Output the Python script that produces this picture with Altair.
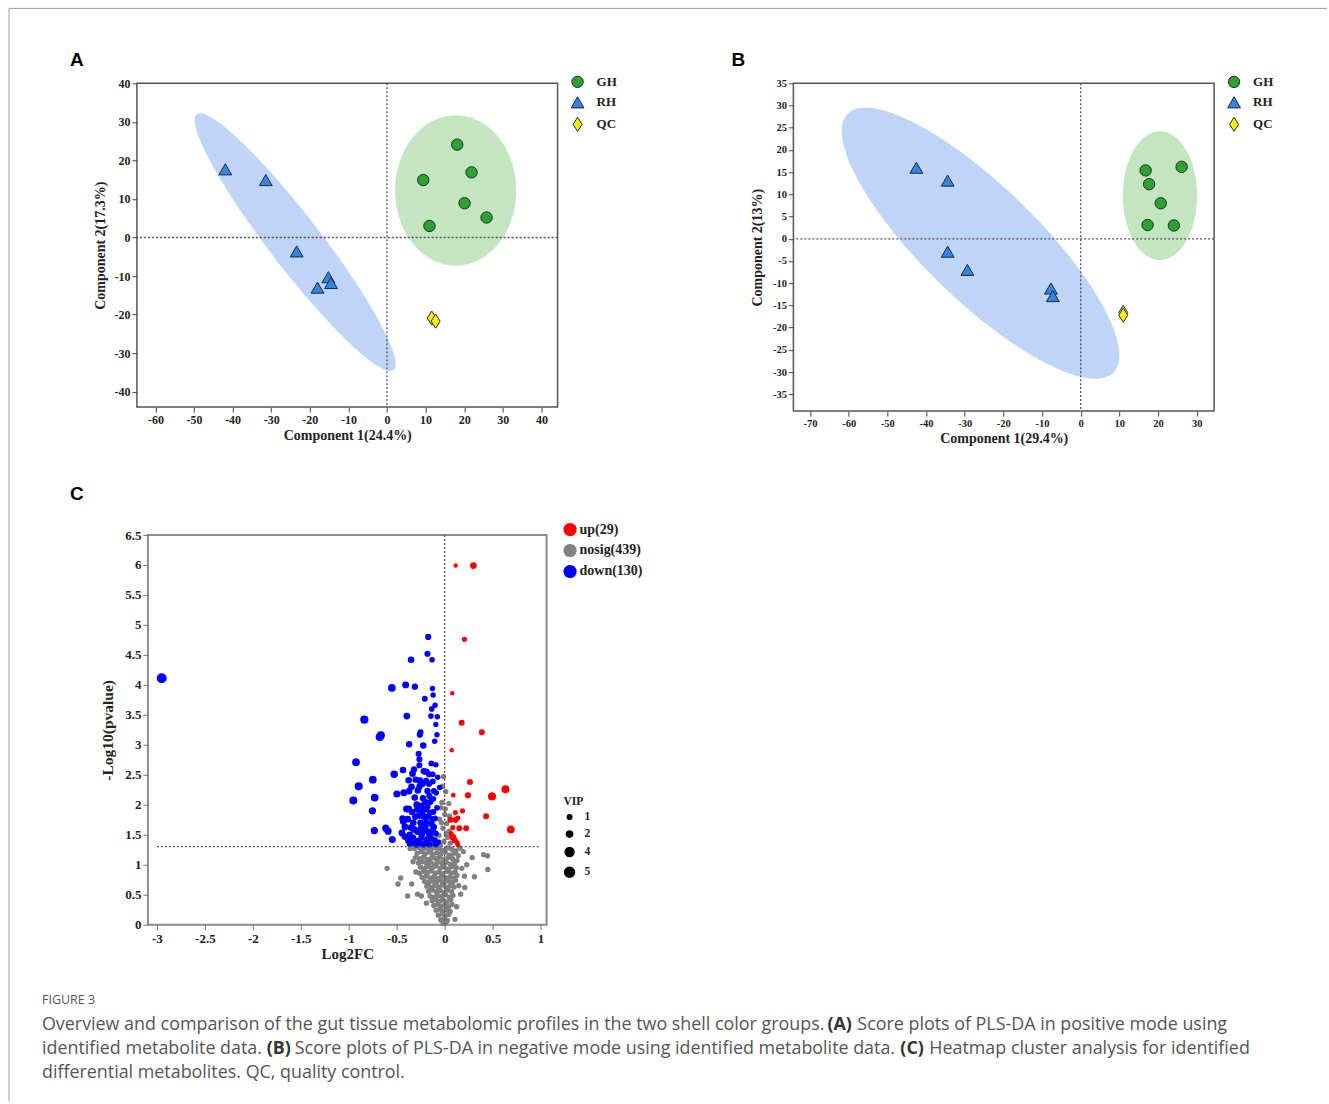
import altair as alt
import numpy as np
import pandas as pd

# ---------------- Panel A : PLS-DA, positive mode ----------------
GROUPS = ["GH", "RH", "QC"]
A_GH_X = [18.2, 9.4, 21.9, 20.1, 25.8, 11.0]
A_GH_Y = [24.1, 14.9, 16.9, 8.9, 5.2, 3.0]
A_RH_X = [-41.9, -31.4, -23.4, -15.2, -14.5, -18.0]
A_RH_Y = [17.7, 14.9, -3.6, -10.3, -11.8, -13.0]
A_QC_X = [11.6, 12.6]
A_QC_Y = [-20.9, -21.7]
A_X_TICKS = [-60, -50, -40, -30, -20, -10, 0, 10, 20, 30, 40]
A_Y_TICKS = [-40, -30, -20, -10, 0, 10, 20, 30, 40]
# confidence ellipses: centre x, centre y, semi-axis vector U, conjugate vector V
A_ELL_RH = [-23.8, -1.2, -25.5, 33.2, 5.3, 4.1]
A_ELL_GH = [17.8, 12.2, 15.7, 0.0, 0.0, 19.5]

# ---------------- Panel B : PLS-DA, negative mode ----------------
B_GH_X = [16.8, 26.1, 17.7, 20.7, 17.3, 24.1]
B_GH_Y = [15.4, 16.2, 12.3, 8.0, 3.1, 3.0]
B_RH_X = [-42.5, -34.4, -34.4, -29.3, -7.7, -7.2]
B_RH_Y = [16.0, 13.1, -2.9, -7.0, -11.2, -12.9]
B_QC_X = [11.0, 11.0]
B_QC_Y = [-16.6, -17.2]
B_X_TICKS = [-70, -60, -50, -40, -30, -20, -10, 0, 10, 20, 30]
B_Y_TICKS = [-35, -30, -25, -20, -15, -10, -5, 0, 5, 10, 15, 20, 25, 30, 35]
B_ELL_RH = [-25.9, -1.0, 34.4, -29.1, -10.3, -9.2]
B_ELL_GH = [20.5, 9.7, 9.6, 0.0, 0.0, 14.5]

# ---------------- Panel C : volcano plot ----------------
C_TYPES = ["up(29)", "nosig(439)", "down(130)"]
C_X_TICKS = [-3, -2.5, -2, -1.5, -1, -0.5, 0, 0.5, 1]
C_Y_TICKS = [0, 0.5, 1, 1.5, 2, 2.5, 3, 3.5, 4, 4.5, 5, 5.5, 6, 6.5]
C_VIP_LEGEND = [1, 2, 4, 5]
C_P_THRESHOLD = 1.301
# (log2FC, -log10 p, VIP)
C_UP = [
    (0.115, 5.99, 1.0), (0.300, 5.99, 2.3), (0.207, 4.76, 1.4), (0.080, 3.86, 1.0),
    (0.178, 3.37, 1.8), (0.388, 3.21, 1.8), (0.074, 2.91, 1.0), (0.264, 2.38, 1.8),
    (0.634, 2.26, 3.2), (0.090, 2.16, 1.1), (0.243, 2.16, 1.9), (0.494, 2.14, 3.5),
    (0.112, 1.87, 1.3), (0.186, 1.90, 1.4), (0.432, 1.81, 1.8), (0.060, 1.75, 1.8),
    (0.115, 1.75, 1.9), (0.153, 1.61, 1.8), (0.224, 1.61, 1.8), (0.690, 1.59, 3.0),
    (0.068, 1.52, 1.3), (0.090, 1.47, 1.5), (0.108, 1.42, 1.4), (0.130, 1.37, 1.3),
    (0.138, 1.33, 1.2), (0.085, 1.62, 1.3), (0.098, 1.40, 1.2), (0.140, 1.78, 1.2),
    (0.075, 1.45, 1.1),
]
C_DOWN = [
    (-2.950, 4.11, 5.0), (-0.171, 4.80, 1.9), (-0.179, 4.52, 1.9), (-0.131, 4.42, 1.6),
    (-0.350, 4.42, 2.2), (-0.550, 3.95, 2.9), (-0.406, 4.00, 2.4), (-0.310, 3.97, 2.0),
    (-0.127, 3.94, 1.5), (-0.120, 3.83, 1.5), (-0.207, 3.77, 1.8), (-0.100, 3.66, 1.5),
    (-0.135, 3.60, 1.6), (-0.837, 3.42, 3.4), (-0.394, 3.48, 2.3), (-0.143, 3.48, 1.6),
    (-0.076, 3.47, 1.5), (-0.092, 3.34, 1.4), (-0.677, 3.13, 3.3), (-0.665, 3.16, 3.3),
    (-0.251, 3.21, 1.9), (-0.259, 3.17, 1.9), (-0.080, 3.17, 1.5), (-0.104, 3.06, 1.5),
    (-0.370, 3.01, 2.1), (-0.223, 2.99, 2.1), (-0.271, 2.85, 1.9), (-0.263, 2.76, 1.9),
    (-0.924, 2.71, 3.0), (-0.139, 2.69, 1.7), (-0.092, 2.67, 1.5), (-0.263, 2.66, 1.9),
    (-0.319, 2.59, 2.0), (-0.434, 2.58, 2.2), (-0.191, 2.55, 2.2), (-0.526, 2.51, 2.8),
    (-0.335, 2.52, 2.2), (-0.163, 2.51, 1.9), (-0.124, 2.51, 1.6), (-0.072, 2.46, 1.5),
    (-0.749, 2.42, 3.0), (-0.375, 2.41, 2.2), (-0.259, 2.40, 2.4), (-0.124, 2.39, 1.8),
    (-0.052, 2.29, 1.5), (-0.896, 2.31, 3.3), (-0.231, 2.35, 2.2), (-0.163, 2.35, 2.0),
    (-0.370, 2.23, 2.3), (-0.279, 2.24, 2.2), (-0.179, 2.23, 2.0), (-0.112, 2.23, 1.8),
    (-0.498, 2.18, 2.5), (-0.426, 2.20, 2.5), (-0.729, 2.12, 3.0), (-0.952, 2.07, 3.2),
    (-0.227, 2.11, 2.0), (-0.291, 2.00, 2.4), (-0.247, 1.98, 2.2), (-0.179, 1.97, 2.0),
    (-0.375, 1.93, 2.4), (-0.753, 1.90, 2.7), (-0.339, 1.88, 2.2), (-0.199, 1.93, 2.1),
    (-0.151, 1.87, 2.0), (-0.263, 1.82, 2.2), (-0.438, 1.77, 2.4), (-0.171, 1.81, 2.0),
    (-0.100, 1.77, 1.8), (-0.430, 1.72, 2.4), (-0.327, 1.70, 2.2), (-0.251, 1.70, 2.2),
    (-0.191, 1.71, 2.1), (-0.135, 1.68, 2.0), (-0.414, 1.63, 2.3), (-0.614, 1.61, 2.6),
    (-0.590, 1.56, 2.6), (-0.733, 1.57, 2.6), (-0.319, 1.59, 2.3), (-0.211, 1.59, 2.2),
    (-0.124, 1.58, 2.0), (-0.363, 1.50, 2.3), (-0.239, 1.51, 2.2), (-0.155, 1.50, 2.1),
    (-0.092, 1.52, 1.8), (-0.546, 1.42, 2.5), (-0.414, 1.47, 2.3), (-0.378, 1.40, 2.2),
    (-0.271, 1.40, 2.2), (-0.183, 1.41, 2.1), (-0.104, 1.41, 1.9), (-0.291, 1.34, 2.2),
    (-0.223, 1.34, 2.1), (-0.155, 1.34, 2.0), (-0.092, 1.34, 1.8), (-0.200, 1.64, 2.1),
    (-0.170, 1.45, 2.0), (-0.282, 1.55, 2.2), (-0.305, 1.80, 2.2), (-0.118, 1.88, 1.8),
    (-0.148, 2.05, 1.9), (-0.192, 2.40, 2.0), (-0.218, 2.56, 2.0), (-0.302, 2.42, 2.1),
    (-0.088, 2.20, 1.6), (-0.352, 1.62, 2.2), (-0.285, 1.92, 2.2), (-0.130, 1.76, 1.9),
    (-0.240, 1.45, 2.1), (-0.200, 1.36, 2.0), (-0.330, 1.45, 2.2), (-0.110, 1.63, 1.9),
    (-0.160, 2.15, 1.9), (-0.262, 2.30, 2.1), (-0.385, 1.76, 2.3), (-0.445, 1.53, 2.4),
    (-0.080, 1.95, 1.6), (-0.312, 2.12, 2.2), (-0.215, 1.80, 2.1), (-0.142, 1.44, 2.0),
    (-0.250, 1.60, 2.2), (-0.205, 2.05, 2.1), (-0.345, 2.30, 2.2), (-0.066, 1.38, 1.6),
    (-0.398, 1.93, 2.3), (-0.318, 1.37, 2.1), (-0.175, 1.55, 2.1), (-0.232, 1.88, 2.1),
    (-0.118, 2.10, 1.7), (-0.360, 1.35, 2.2),
]
C_NOSIG_VIP = 1.45
C_NOSIG = [
    (-0.012, 2.47), (-0.028, 2.04), (0.044, 2.02), (-0.040, 1.95), (0.002, 1.84),
    (-0.052, 1.76), (0.022, 1.69), (-0.018, 1.61), (0.047, 1.56), (-0.060, 1.49),
    (0.031, 1.46), (-0.008, 1.39), (0.058, 1.36), (-0.045, 1.33), (0.012, 2.22),
    (-0.022, 2.31), (0.006, 1.93), (0.051, 1.81), (-0.034, 1.70), (0.018, 1.52),
    (-0.600, 0.94), (-0.458, 0.78), (-0.486, 0.68), (-0.343, 0.68), (-0.386, 0.48),
    (-0.283, 0.51), (-0.243, 0.48), (0.287, 1.12), (0.406, 1.17), (0.446, 1.15),
    (0.450, 0.92), (0.311, 0.80), (0.179, 0.94), (0.207, 0.81), (0.147, 0.65),
    (0.108, 0.09), (0.167, 0.51), (-0.300, 0.88), (0.230, 1.00), (-0.330, 1.05),
    (0.195, 1.22), (-0.360, 1.27), (0.160, 1.28), (0.210, 0.62), (-0.190, 0.36),
    (0.125, 0.30),
    (-0.312, 1.27), (-0.268, 1.29), (-0.224, 1.26), (-0.183, 1.28), (-0.141, 1.25),
    (-0.102, 1.29), (-0.061, 1.27), (-0.019, 1.24), (0.028, 1.28), (0.074, 1.26),
    (0.118, 1.23), (-0.287, 1.19), (-0.246, 1.22), (-0.205, 1.18), (-0.162, 1.21),
    (-0.123, 1.17), (-0.081, 1.20), (-0.040, 1.18), (0.006, 1.21), (0.051, 1.16),
    (0.097, 1.19), (0.142, 1.15), (-0.305, 1.12), (-0.262, 1.10), (-0.218, 1.13),
    (-0.176, 1.09), (-0.134, 1.12), (-0.092, 1.10), (-0.053, 1.13), (-0.012, 1.09),
    (0.036, 1.12), (0.083, 1.10), (0.129, 1.07), (-0.274, 1.03), (-0.231, 1.05),
    (-0.190, 1.02), (-0.148, 1.04), (-0.107, 1.01), (-0.066, 1.05), (-0.027, 1.02),
    (0.018, 1.04), (0.061, 1.01), (0.104, 1.03), (-0.252, 0.96), (-0.211, 0.94),
    (-0.168, 0.97), (-0.128, 0.95), (-0.088, 0.98), (-0.047, 0.94), (-0.004, 0.96),
    (0.041, 0.93), (0.082, 0.97), (0.122, 0.95), (-0.262, 0.86), (-0.220, 0.89),
    (-0.178, 0.87), (-0.139, 0.90), (-0.098, 0.86), (-0.058, 0.88), (-0.018, 0.85),
    (0.027, 0.89), (0.069, 0.86), (0.108, 0.88), (-0.236, 0.79), (-0.193, 0.81),
    (-0.152, 0.78), (-0.112, 0.80), (-0.071, 0.77), (-0.032, 0.81), (0.011, 0.78),
    (0.054, 0.80), (0.097, 0.77), (0.128, 0.82), (-0.208, 0.72), (-0.166, 0.70),
    (-0.124, 0.73), (-0.085, 0.71), (-0.044, 0.74), (-0.006, 0.70), (0.037, 0.73),
    (0.081, 0.71), (0.115, 0.74), (-0.186, 0.64), (-0.146, 0.62), (-0.104, 0.65),
    (-0.065, 0.63), (-0.026, 0.66), (0.016, 0.62), (0.058, 0.65), (0.099, 0.63),
    (-0.168, 0.56), (-0.127, 0.58), (-0.087, 0.55), (-0.047, 0.57), (-0.008, 0.54),
    (0.034, 0.58), (0.073, 0.55), (-0.152, 0.48), (-0.112, 0.46), (-0.073, 0.49),
    (-0.033, 0.47), (0.009, 0.50), (0.048, 0.46), (0.086, 0.49), (-0.131, 0.40),
    (-0.092, 0.42), (-0.054, 0.39), (-0.016, 0.41), (0.024, 0.38), (0.063, 0.42),
    (-0.113, 0.32), (-0.074, 0.34), (-0.037, 0.31), (0.002, 0.33), (0.041, 0.30),
    (0.078, 0.34), (-0.089, 0.24), (-0.052, 0.26), (-0.016, 0.23), (0.021, 0.25),
    (0.058, 0.22), (-0.066, 0.16), (-0.029, 0.18), (0.007, 0.15), (0.043, 0.17),
    (-0.041, 0.08), (-0.006, 0.10), (0.028, 0.07), (-0.015, 0.02), (0.014, 0.03),
]

CAPTION_HEAD = "FIGURE 3"
CAPTION_L1 = ["Overview and comparison of the gut tissue metabolomic profiles in the two shell color groups.",
              "(A)", "Score plots of PLS-DA in positive mode using"]
CAPTION_L2 = ["identified metabolite data.", "(B)",
              "Score plots of PLS-DA in negative mode using identified metabolite data.", "(C)",
              "Heatmap cluster analysis for identified"]
CAPTION_L3 = ["differential metabolites. QC, quality control."]

# ---------------- styling ----------------
SERIF = "Liberation Serif"
SANS = "Liberation Sans"
CAP_FONT = "Open Sans"
CAP_FS = 17.9
GREEN, BLUE, YELLOW = "#2ea22e", "#3584e4", "#f7ee0a"
ELL_BLUE, ELL_GREEN = "#bfd5f6", "#c3e6c0"
DIAMOND = "M0,-1L0.64,0L0,1L-0.64,0Z"
one = pd.DataFrame({"k": [0]})


def ellipse_band(p, n=240):
    cx, cy, ux, uy, vx, vy = p
    rx = np.hypot(ux, vx)
    phi = np.arctan2(vx, ux)
    s = np.linspace(0, np.pi, n)
    t1, t2 = phi + s, phi - s
    y1 = cy + uy * np.cos(t1) + vy * np.sin(t1)
    y2 = cy + uy * np.cos(t2) + vy * np.sin(t2)
    return pd.DataFrame({"ex": cx + rx * np.cos(s),
                         "elo": np.minimum(y1, y2), "ehi": np.maximum(y1, y2)})


def txt(s, x, y, size, weight="normal", font=CAP_FONT, color="#555", align="left"):
    return alt.Chart(one).mark_text(text=s, font=font, fontSize=size, fontWeight=weight,
                                    color=color, align=align, baseline="middle").encode(
        x=alt.value(x), y=alt.value(y))


def axis(values, title, lab_fs, title_fs, tpad, tick_color="#444", lpad=2):
    return alt.Axis(values=values, labelExpr="datum.value + ''", title=title, grid=False,
                    domain=False, tickSize=5, tickColor=tick_color, tickWidth=1,
                    labelFont=SERIF, labelFontWeight="bold", labelFontSize=lab_fs,
                    labelColor="#222", labelPadding=lpad, labelOverlap=False, labelFlush=False,
                    labelSeparation=0,
                    titleFont=SERIF, titleFontWeight="bold", titleFontSize=title_fs,
                    titleColor="#222", titlePadding=tpad)


def score_panel(gx, gy, rx, ry, qx, qy, ell_rh, ell_gh, xdom, ydom, xt, yt,
                xtitle, ytitle, w, h, lab_fs, label, label_xy, ytpad, extra=()):
    pts = pd.DataFrame({"x": gx + rx + qx, "y": gy + ry + qy,
                        "group": ["GH"] * len(gx) + ["RH"] * len(rx) + ["QC"] * len(qx)})
    xs = alt.Scale(domain=xdom, nice=False, zero=False)
    ys = alt.Scale(domain=ydom, nice=False, zero=False)
    xa = axis(xt, xtitle, lab_fs, 14, 3)
    ya = axis(yt, ytitle, lab_fs, 14, ytpad)

    def ell(p, col):
        return alt.Chart(ellipse_band(p)).mark_area(color=col, opacity=1).encode(
            x=alt.X("ex:Q", scale=xs, axis=xa), y=alt.Y("elo:Q", scale=ys, axis=ya), y2="ehi:Q")

    dot = dict(color="#555", strokeDash=[2, 2], strokeWidth=1.3)
    vline = alt.Chart(one).mark_rule(**dot).encode(x=alt.X(datum=0, scale=xs, axis=xa))
    hline = alt.Chart(one).mark_rule(**dot).encode(y=alt.Y(datum=0, scale=ys, axis=ya))
    leg = alt.Legend(title=None, orient="none", legendX=w + 12, legendY=-8, symbolSize=215,
                     symbolStrokeColor="#1f2a36", symbolStrokeWidth=1, labelFont=SERIF,
                     labelFontWeight="bold", labelFontSize=13, labelColor="#222",
                     labelOffset=11, rowPadding=4, padding=0)
    points = alt.Chart(pts).mark_point(filled=True, opacity=1, stroke="#1f2a36",
                                        strokeWidth=1).encode(
        x=alt.X("x:Q", scale=xs, axis=xa), y=alt.Y("y:Q", scale=ys, axis=ya),
        color=alt.Color("group:N", scale=alt.Scale(domain=GROUPS, range=[GREEN, BLUE, YELLOW]),
                        legend=leg),
        shape=alt.Shape("group:N", scale=alt.Scale(domain=GROUPS,
                                                    range=["circle", "triangle-up", DIAMOND]),
                        legend=leg),
        size=alt.Size("group:N", scale=alt.Scale(domain=GROUPS, range=[130, 200, 190]),
                      legend=None),
    )
    lab = txt(label, label_xy[0], label_xy[1], 19, "bold", SANS, "#000", "center")
    return alt.layer(ell(ell_rh, ELL_BLUE), ell(ell_gh, ELL_GREEN), vline, hline, points, lab,
                     *extra).properties(
        width=w, height=h, view=alt.ViewBackground(stroke="#555", strokeWidth=1.5))


# outer frame of the figure (page x=8, y=8), drawn relative to panel A's origin (136, 83)
frame = [
    alt.Chart(one).mark_rule(color="#a0a0a0", strokeWidth=1).encode(
        x=alt.value(-128), x2=alt.value(1191), y=alt.value(-75)),
    alt.Chart(one).mark_rule(color="#a0a0a0", strokeWidth=1).encode(
        x=alt.value(-128), y=alt.value(-75), y2=alt.value(1019)),
]

A = score_panel(A_GH_X, A_GH_Y, A_RH_X, A_RH_Y, A_QC_X, A_QC_Y, A_ELL_RH, A_ELL_GH,
                [-64.8, 44.2], [-44.0, 40.0], A_X_TICKS, A_Y_TICKS,
                "Component 1(24.4%)", "Component 2(17.3%)", 421, 324, 12, "A", (-60, -23), 6,
                extra=frame)
B = score_panel(B_GH_X, B_GH_Y, B_RH_X, B_RH_Y, B_QC_X, B_QC_Y, B_ELL_RH, B_ELL_GH,
                [-74.3, 34.5], [-38.8, 35.0], B_X_TICKS, B_Y_TICKS,
                "Component 1(29.4%)", "Component 2(13%)", 421, 328, 10.5, "B", (-55, -23), 8)

# ---------------- panel C (origin on the page: 147, 535) ----------------
CX0, CY0 = 147, 535
rows = ([(x, y, C_NOSIG_VIP, C_TYPES[1]) for x, y in C_NOSIG]
        + [(x, y, v, C_TYPES[2]) for x, y, v in C_DOWN]
        + [(x, y, v, C_TYPES[0]) for x, y, v in C_UP])
cdf = pd.DataFrame(rows, columns=["fc", "p", "vip", "type"])
cxs = alt.Scale(domain=[-3.094, 1.063], nice=False, zero=False)
cys = alt.Scale(domain=[0, 6.5], nice=False, zero=False)
cxa = axis(C_X_TICKS, "Log2FC", 13, 15, 1, "#777", lpad=3)
cya = axis(C_Y_TICKS, "-Log10(pvalue)", 13, 15.5, 9, "#777")
cpts = alt.Chart(cdf).mark_circle(opacity=1).encode(
    x=alt.X("fc:Q", scale=cxs, axis=cxa),
    y=alt.Y("p:Q", scale=cys, axis=cya),
    color=alt.Color("type:N", scale=alt.Scale(domain=C_TYPES, range=["#ff0000", "#808080", "#0000ff"]),
                    legend=alt.Legend(title=None, orient="none", legendX=415, legendY=-13,
                                      symbolSize=175, symbolType="circle", labelFont=SERIF,
                                      labelFontWeight="bold", labelFontSize=14, labelColor="#222",
                                      labelOffset=2, rowPadding=6, padding=0)),
    size=alt.Size("vip:Q", scale=alt.Scale(domain=[1, 5], range=[20, 100], zero=False),
                  legend=alt.Legend(title="VIP", orient="none", legendX=416, legendY=261,
                                    values=C_VIP_LEGEND, symbolType="circle",
                                    symbolFillColor="#000", symbolStrokeColor="#000",
                                    titleFont=SERIF, titleFontWeight="bold", titleFontSize=11.5,
                                    titleColor="#222", titlePadding=4,
                                    labelFont=SERIF, labelFontWeight="bold", labelFontSize=11.5,
                                    labelColor="#222", labelOffset=9, rowPadding=4, padding=0)),
)
cdot = dict(color="#555", strokeDash=[2, 2], strokeWidth=1.3)
c_v = alt.Chart(one).mark_rule(**cdot).encode(x=alt.X(datum=0, scale=cxs, axis=cxa))
c_h = alt.Chart(one).mark_rule(**cdot).encode(x=alt.X(datum=-3, scale=cxs, axis=cxa),
                                              x2=alt.datum(1),
                                              y=alt.Y(datum=C_P_THRESHOLD, scale=cys, axis=cya))


def cap(s, px, py, size=CAP_FS, weight="normal", color="#555"):
    return txt(s, px - CX0, py - CY0, size, weight, CAP_FONT, color)


caption = [
    txt("C", 76 - CX0, 494 - CY0, 19, "bold", SANS, "#000", "center"),
    cap(CAPTION_HEAD, 41, 1000, 12.5),
    cap(CAPTION_L1[0], 41, 1025),
    cap(CAPTION_L1[1], 827, 1025, weight="bold", color="#333"),
    cap(CAPTION_L1[2], 857, 1025),
    cap(CAPTION_L2[0], 41, 1049),
    cap(CAPTION_L2[1], 266, 1049, weight="bold", color="#333"),
    cap(CAPTION_L2[2], 294, 1049),
    cap(CAPTION_L2[3], 900, 1049, weight="bold", color="#333"),
    cap(CAPTION_L2[4], 929, 1049),
    cap(CAPTION_L3[0], 41, 1073),
]

C = alt.layer(cpts, c_v, c_h, *caption).properties(
    width=399, height=390, view=alt.ViewBackground(stroke="#8c8c8c", strokeWidth=2))

ind = dict(color="independent", shape="independent", size="independent")
chart = alt.concat(
    A, B, C, columns=2, spacing={"row": 124, "column": 236}, bounds="flush",
    center={"row": False, "column": True},
).resolve_scale(x="independent", y="independent", **ind).resolve_legend(**ind).properties(
    padding={"left": 7, "top": 6, "right": 0, "bottom": 0}, background="white"
).configure_legend(symbolBaseFillColor="#000", symbolBaseStrokeColor="#000"
).configure_axis(labelOverlap=False)

chart.save("out.html", embed_options={"renderer": "svg", "actions": False})
